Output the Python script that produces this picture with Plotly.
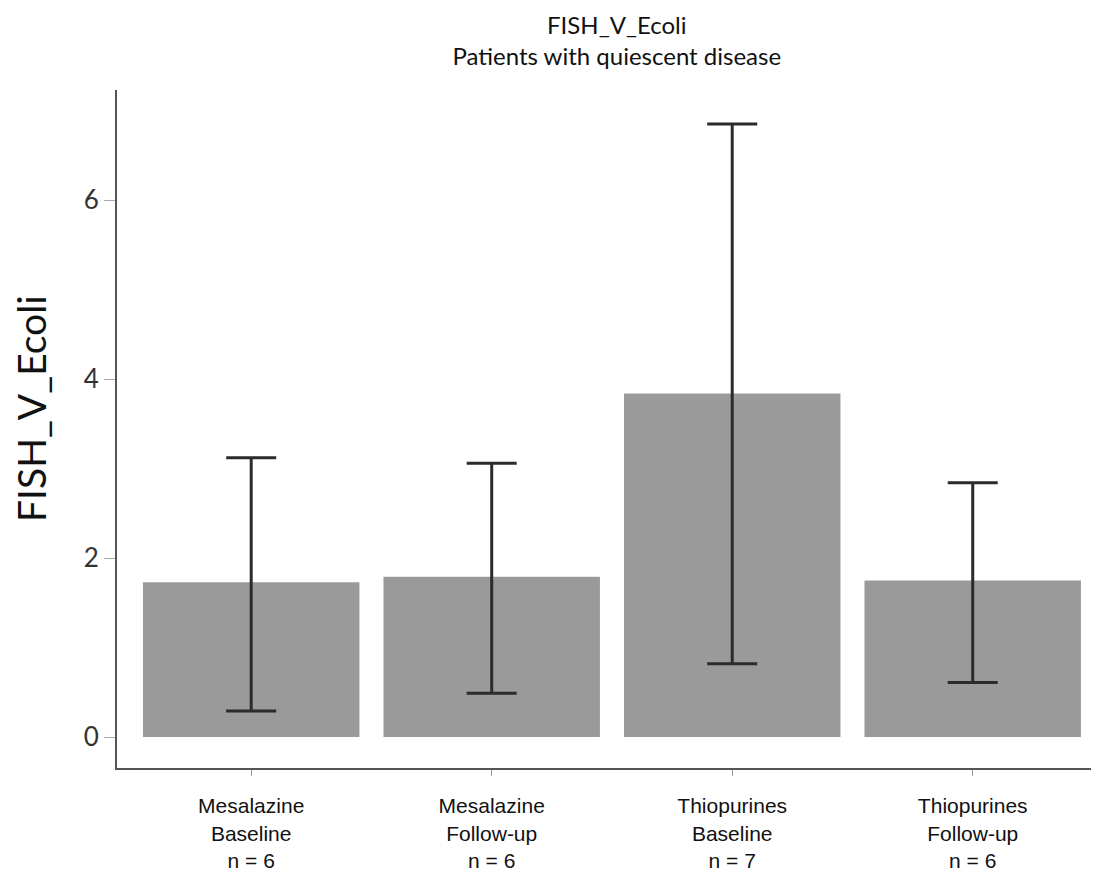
import plotly.graph_objects as go

categories = ["Mesalazine<br>Baseline<br>n = 6", "Mesalazine<br>Follow-up<br>n = 6",
              "Thiopurines<br>Baseline<br>n = 7", "Thiopurines<br>Follow-up<br>n = 6"]
means = [1.73, 1.79, 3.84, 1.75]
upper = [3.12, 3.06, 6.85, 2.84]
lower = [0.29, 0.49, 0.82, 0.61]
yticks = [0, 2, 4, 6]

err_plus = [u - m for u, m in zip(upper, means)]
err_minus = [m - l for m, l in zip(means, lower)]

fig = go.Figure(go.Bar(
    x=categories, y=means,
    marker=dict(color="#9a9a9a", line=dict(width=0)),
    error_y=dict(type="data", symmetric=False, array=err_plus, arrayminus=err_minus,
                 color="#2b2b2b", thickness=3, width=25),
))

# page body adds an 8px offset, so the figure is drawn 8px smaller
fig.update_layout(
    width=1091, height=870,
    paper_bgcolor="white", plot_bgcolor="white",
    margin=dict(l=109, r=0, t=82, b=110),
    bargap=0.1,
    showlegend=False,
    title=dict(text="FISH_V_Ecoli<br>Patients with quiescent disease",
               x=0.558, xanchor="center", y=0.970, yanchor="top",
               font=dict(family="Lato, Carlito, sans-serif", size=24, color="#111")),
)
fig.add_annotation(
    text="FISH_V_Ecoli", textangle=-90, showarrow=False,
    xref="paper", yref="paper", x=-0.0876, y=0.531, xanchor="center", yanchor="middle",
    font=dict(family="Lato, Carlito, sans-serif", size=39, color="#111"),
)
fig.update_xaxes(
    range=[-0.558, 3.525], showline=True, linecolor="#555", linewidth=2,
    ticks="outside", ticklen=6, tickcolor="#999", showgrid=False, automargin=False,
    tickfont=dict(family="Liberation Sans, Arial", size=21, color="#111"),
    ticklabelstandoff=12,
)
fig.update_yaxes(
    range=[-0.346, 7.23], showline=True, linecolor="#555", linewidth=2,
    ticks="outside", ticklen=11, tickcolor="#aaa", showgrid=False, zeroline=False,
    tickvals=yticks, ticktext=[str(v) for v in yticks], automargin=False,
    tickfont=dict(family="Lato, Carlito, sans-serif", size=26, color="#333"),
)

fig.write_html("out.html")
